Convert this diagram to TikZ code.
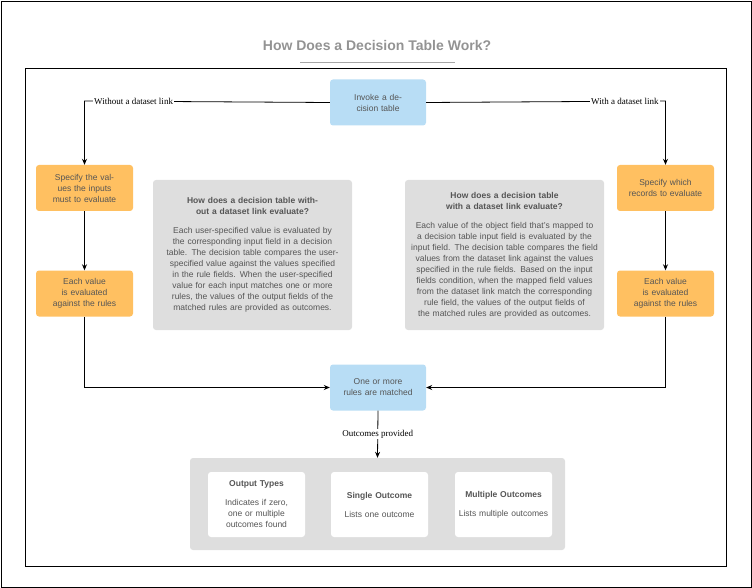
\documentclass[tikz,border=0pt]{standalone}
\usepackage{fontspec}
\setmainfont{Liberation Sans}
\newfontfamily\serifl{Liberation Serif}
\usetikzlibrary{arrows.meta}
\definecolor{bl}{HTML}{B8DDF5}
\definecolor{og}{HTML}{FFC061}
\definecolor{gr}{HTML}{DEDEDE}
\definecolor{tx}{HTML}{555555}
\begin{document}
\begin{tikzpicture}[x=1pt,y=-1pt,
 box/.style={rounded corners=3pt,align=center,text=tx,font=\fontsize{8.5}{11}\selectfont,inner sep=2pt},
 blue/.style={box,fill=bl,minimum width=96pt,minimum height=46pt,text width=80pt},
 orange/.style={box,fill=og,minimum width=97pt,minimum height=46pt,text width=80pt},
 sub/.style={box,fill=white,minimum width=97pt,minimum height=65pt,text width=90pt},
 arr/.style={-{Stealth[length=6pt,width=5pt]},thick},
 lab/.style={fill=white,font=\serifl\fontsize{9}{11}\selectfont,inner sep=1pt}]
\useasboundingbox (0,0) rectangle (752,588);
\draw[thick] (1,1) rectangle (751,587);
\node[font=\bfseries\fontsize{14}{16}\selectfont,text=gray!85] (title) at (377,45) {How Does a Decision Table Work?};
\draw[gray!70,thick] (300,62) -- (455,62);
\draw[thick] (25,68) rectangle (726,566);
\node[blue] (inv) at (378,102.5) {Invoke a decision table};
\node[orange] (l1) at (84.5,188) {Specify the values the inputs must to evaluate};
\node[orange] (l2) at (84.5,293.5) {Each value is evaluated against the rules};
\node[orange] (r1) at (665.5,188) {Specify which records to evaluate};
\node[orange] (r2) at (665.5,293.5) {Each value is evaluated against the rules};
\node[box,fill=gr,minimum width=199pt,minimum height=150pt,text width=185pt] (gl) at (252.5,255) {\textbf{How does a decision table without a dataset link evaluate?}\\[8pt]Each user-specified value is evaluated by the corresponding input field in a decision table. The decision table compares the user-specified value against the values specified in the rule fields. When the user-specified value for each input matches one or more rules, the values of the output fields of the matched rules are provided as outcomes.};
\node[box,fill=gr,minimum width=199pt,minimum height=150pt,text width=190pt] (gr) at (504.5,255) {\textbf{How does a decision table with a dataset link evaluate?}\\[8pt]Each value of the object field that's mapped to a decision table input field is evaluated by the input field. The decision table compares the field values from the dataset link against the values specified in the rule fields. Based on the input fields condition, when the mapped field values from the dataset link match the corresponding rule field, the values of the output fields of the matched rules are provided as outcomes.};
\node[blue] (m) at (378,387.5) {One or more rules are matched};
\node[box,fill=gr,minimum width=375pt,minimum height=92pt] (c) at (377.5,504) {};
\node[sub] (s1) at (256.5,504.5) {\textbf{Output Types}\\[8pt]Indicates if zero, one or multiple outcomes found};
\node[sub] (s2) at (379.5,504.5) {\textbf{Single Outcome}\\[8pt]Lists one outcome};
\node[sub] (s3) at (503.5,504.5) {\textbf{Multiple Outcomes}\\[8pt]Lists multiple outcomes};
\draw[arr] (inv.west) -- (84.5,101) node[lab,pos=0.8] {Without a dataset link} -- (l1.north);
\draw[arr] (inv.east) -- (665.5,101) node[lab,pos=0.83] {With a dataset link} -- (r1.north);
\draw[arr] (l1) -- (l2);
\draw[arr] (r1) -- (r2);
\draw[arr] (l2.south) |- (m.west);
\draw[arr] (r2.south) |- (m.east);
\draw[arr] (m.south) -- node[lab] {Outcomes provided} (c.north);
\end{tikzpicture}
\end{document}
